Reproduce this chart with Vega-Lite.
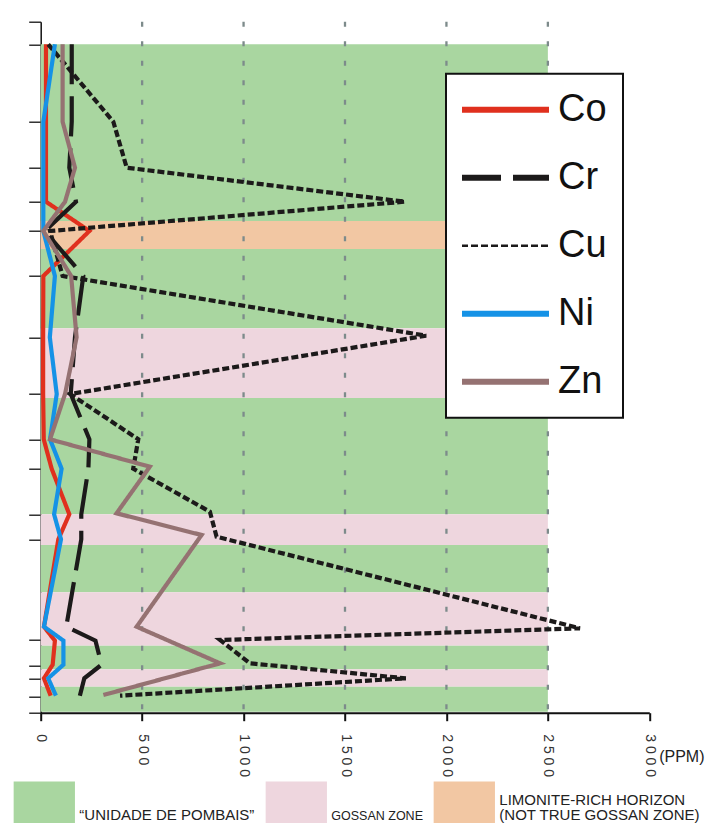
{
  "$schema": "https://vega.github.io/schema/vega-lite/v6.json",
  "width": 608.6,
  "height": 691,
  "autosize": {"type": "none"},
  "padding": {"left": 40.7, "top": 21.7, "right": 67.7, "bottom": 110.3},
  "background": "white",
  "config": {
    "view": {"stroke": null},
    "font": "Liberation Sans"
  },
  "datasets": {
    "zones": [
      {"zone": "“UNIDADE DE POMBAIS”", "top": 22.6, "bottom": 199.3},
      {"zone": "LIMONITE-RICH HORIZON (NOT TRUE GOSSAN ZONE)", "top": 199.3, "bottom": 227.3},
      {"zone": "“UNIDADE DE POMBAIS”", "top": 227.3, "bottom": 306.6},
      {"zone": "GOSSAN ZONE", "top": 306.6, "bottom": 376.3},
      {"zone": "“UNIDADE DE POMBAIS”", "top": 376.3, "bottom": 492.6},
      {"zone": "GOSSAN ZONE", "top": 492.6, "bottom": 523.3},
      {"zone": "“UNIDADE DE POMBAIS”", "top": 523.3, "bottom": 570.6},
      {"zone": "GOSSAN ZONE", "top": 570.6, "bottom": 624},
      {"zone": "“UNIDADE DE POMBAIS”", "top": 624, "bottom": 647.6},
      {"zone": "GOSSAN ZONE", "top": 647.6, "bottom": 665},
      {"zone": "“UNIDADE DE POMBAIS”", "top": 665, "bottom": 690}
    ],
    "grid": [{"g": 500}, {"g": 1000}, {"g": 1500}, {"g": 2000}, {"g": 2500}],
    "metals": [
      {"el": "Co", "depth": 22.6, "ppm": 26},
      {"el": "Co", "depth": 180, "ppm": 26},
      {"el": "Co", "depth": 209.3, "ppm": 240},
      {"el": "Co", "depth": 254.3, "ppm": 13},
      {"el": "Co", "depth": 315.6, "ppm": 12},
      {"el": "Co", "depth": 372.3, "ppm": 12},
      {"el": "Co", "depth": 417.6, "ppm": 15},
      {"el": "Co", "depth": 447, "ppm": 54},
      {"el": "Co", "depth": 492.6, "ppm": 141},
      {"el": "Co", "depth": 517.6, "ppm": 87},
      {"el": "Co", "depth": 605, "ppm": 16},
      {"el": "Co", "depth": 619, "ppm": 70},
      {"el": "Co", "depth": 643, "ppm": 59},
      {"el": "Co", "depth": 656.6, "ppm": 16},
      {"el": "Co", "depth": 674, "ppm": 49},
      {"el": "Cr", "depth": 22.6, "ppm": 153},
      {"el": "Cr", "depth": 100, "ppm": 153},
      {"el": "Cr", "depth": 146, "ppm": 141},
      {"el": "Cr", "depth": 180, "ppm": 174},
      {"el": "Cr", "depth": 209.3, "ppm": 20},
      {"el": "Cr", "depth": 254.3, "ppm": 210},
      {"el": "Cr", "depth": 315.6, "ppm": 169},
      {"el": "Cr", "depth": 372.3, "ppm": 148},
      {"el": "Cr", "depth": 417.6, "ppm": 240},
      {"el": "Cr", "depth": 447, "ppm": 235},
      {"el": "Cr", "depth": 492.6, "ppm": 200},
      {"el": "Cr", "depth": 517.6, "ppm": 200},
      {"el": "Cr", "depth": 605, "ppm": 126},
      {"el": "Cr", "depth": 619, "ppm": 270},
      {"el": "Cr", "depth": 643, "ppm": 300},
      {"el": "Cr", "depth": 656.6, "ppm": 215},
      {"el": "Cr", "depth": 674, "ppm": 193},
      {"el": "Cu", "depth": 22.6, "ppm": 37},
      {"el": "Cu", "depth": 100, "ppm": 358},
      {"el": "Cu", "depth": 146, "ppm": 424},
      {"el": "Cu", "depth": 180, "ppm": 1795},
      {"el": "Cu", "depth": 209.3, "ppm": 46},
      {"el": "Cu", "depth": 254.3, "ppm": 108},
      {"el": "Cu", "depth": 314, "ppm": 1900},
      {"el": "Cu", "depth": 372.3, "ppm": 145},
      {"el": "Cu", "depth": 417.6, "ppm": 481},
      {"el": "Cu", "depth": 447, "ppm": 456},
      {"el": "Cu", "depth": 490, "ppm": 834},
      {"el": "Cu", "depth": 515, "ppm": 867},
      {"el": "Cu", "depth": 606.6, "ppm": 2658},
      {"el": "Cu", "depth": 618.3, "ppm": 884},
      {"el": "Cu", "depth": 641.6, "ppm": 1031},
      {"el": "Cu", "depth": 656.6, "ppm": 1800},
      {"el": "Cu", "depth": 674, "ppm": 391},
      {"el": "Ni", "depth": 22.6, "ppm": 70},
      {"el": "Ni", "depth": 100, "ppm": 13},
      {"el": "Ni", "depth": 209.3, "ppm": 13},
      {"el": "Ni", "depth": 254.3, "ppm": 70},
      {"el": "Ni", "depth": 315.6, "ppm": 45},
      {"el": "Ni", "depth": 372.3, "ppm": 79},
      {"el": "Ni", "depth": 417.6, "ppm": 46},
      {"el": "Ni", "depth": 447, "ppm": 103},
      {"el": "Ni", "depth": 492.6, "ppm": 66},
      {"el": "Ni", "depth": 517.6, "ppm": 100},
      {"el": "Ni", "depth": 605, "ppm": 16},
      {"el": "Ni", "depth": 619, "ppm": 112},
      {"el": "Ni", "depth": 643, "ppm": 112},
      {"el": "Ni", "depth": 656.6, "ppm": 37},
      {"el": "Ni", "depth": 674, "ppm": 75},
      {"el": "Zn", "depth": 22.6, "ppm": 108},
      {"el": "Zn", "depth": 100, "ppm": 108},
      {"el": "Zn", "depth": 146, "ppm": 169},
      {"el": "Zn", "depth": 180, "ppm": 120},
      {"el": "Zn", "depth": 209.3, "ppm": 13},
      {"el": "Zn", "depth": 254.3, "ppm": 150},
      {"el": "Zn", "depth": 315.6, "ppm": 177},
      {"el": "Zn", "depth": 372.3, "ppm": 120},
      {"el": "Zn", "depth": 417.6, "ppm": 46},
      {"el": "Zn", "depth": 445, "ppm": 538},
      {"el": "Zn", "depth": 491.6, "ppm": 374},
      {"el": "Zn", "depth": 513.3, "ppm": 793},
      {"el": "Zn", "depth": 605, "ppm": 473},
      {"el": "Zn", "depth": 641.6, "ppm": 884},
      {"el": "Zn", "depth": 673.3, "ppm": 309}
    ]
  },
  "layer": [
    {
      "data": {"name": "zones"},
      "mark": {"type": "rect", "strokeWidth": 0},
      "encoding": {
        "x": {"datum": 0, "type": "quantitative",
          "scale": {"domain": [0, 3000], "nice": false},
          "axis": {
            "values": [0, 500, 1000, 1500, 2000, 2500, 3000],
            "labelExpr": "join(split(datum.value + '', ''), ' ')",
            "labelAngle": 90, "labelFontSize": 14, "labelColor": "#333333",
            "labelPadding": 13, "labelFont": "Liberation Sans",
            "tickSize": 8, "tickWidth": 2, "tickColor": "#111111",
            "domainColor": "#111111", "domainWidth": 2,
            "grid": false,
            "title": "(PPM)", "titleX": 618, "titleY": 44, "titleAngle": 0,
            "titleAlign": "left", "titleBaseline": "middle",
            "titleFontSize": 16, "titleFontWeight": "normal", "titleColor": "#222222",
            "titleFont": "Liberation Sans"
          }
        },
        "x2": {"datum": 2500},
        "y": {"field": "top", "type": "quantitative",
          "scale": {"domain": [0, 691], "reverse": true, "nice": false, "zero": false},
          "axis": {
            "values": [0, 22.6, 100, 146, 180, 209.3, 254.3, 315.6, 372.3, 417.6, 447, 492.6, 517.6, 618.3, 644.3, 656.6, 675, 691],
            "labels": false, "tickSize": 12, "tickWidth": 1.3, "tickColor": "#111111",
            "domainColor": "#111111", "domainWidth": 1.5, "grid": false, "title": null
          }
        },
        "y2": {"field": "bottom"},
        "fill": {"field": "zone", "type": "nominal",
          "scale": {
            "domain": ["“UNIDADE DE POMBAIS”", "GOSSAN ZONE", "LIMONITE-RICH HORIZON (NOT TRUE GOSSAN ZONE)"],
            "range": ["#a9d6a0", "#eed6de", "#f2c7a3"]
          },
          "legend": {
            "orient": "none", "legendX": -27.4, "legendY": 759.3,
            "direction": "horizontal", "title": null, "padding": 0,
            "symbolType": "square", "symbolSize": 3758, "symbolStrokeWidth": 0,
            "symbolOpacity": 1,
            "labelOffset": 4, "columnPadding": 10, "labelLimit": 400,
            "labelFontSize": 15, "labelColor": "#222222", "labelFont": "Liberation Sans",
            "labelBaseline": "bottom",
            "labelExpr": "datum.value == 'LIMONITE-RICH HORIZON (NOT TRUE GOSSAN ZONE)' ? ['LIMONITE-RICH HORIZON', '(NOT TRUE GOSSAN ZONE)'] : datum.label",
            "encode": {
              "labels": {
                "update": {
                  "dy": {"signal": "datum.value == 'LIMONITE-RICH HORIZON (NOT TRUE GOSSAN ZONE)' ? -4.5 : 11"},
                  "lineHeight": {"value": 15.5},
                  "fontSize": {"signal": "datum.value == 'GOSSAN ZONE' ? 12.5 : 15"}
                }
              }
            }
          }
        }
      }
    },
    {
      "data": {"name": "grid"},
      "mark": {"type": "rule", "color": "#7d8b8b", "strokeWidth": 2.3, "strokeDash": [5, 14.5]},
      "encoding": {
        "x": {"field": "g", "type": "quantitative", "title": "(PPM)"}
      }
    },
    {
      "data": {"name": "metals"},
      "mark": {"type": "line", "strokeWidth": 4.2, "strokeJoin": "miter", "strokeCap": "butt"},
      "encoding": {
        "x": {"field": "ppm", "type": "quantitative", "title": "(PPM)"},
        "y": {"field": "depth", "type": "quantitative", "title": null},
        "order": {"field": "depth"},
        "stroke": {"field": "el", "type": "nominal",
          "scale": {"domain": ["Co", "Cr", "Cu", "Ni", "Zn"],
            "range": ["#e0301e", "#1c1a1a", "#1c1a1a", "#1592e6", "#957272"]},
          "legend": {
            "orient": "none", "legendX": 405.3, "legendY": 52,
            "direction": "vertical", "title": null, "padding": 16,
            "fillColor": "white", "strokeColor": "#111111",
            "symbolType": "stroke", "symbolSize": 7744, "symbolStrokeWidth": 6,
            "symbolOffset": 24,
            "clipHeight": 40, "rowPadding": 28,
            "labelFontSize": 38, "labelOffset": 34, "labelColor": "#111111",
            "labelFont": "Liberation Sans", "labelBaseline": "middle",
            "encode": {
              "legend": {"update": {"strokeWidth": {"value": 2}}},
              "symbols": {
                "update": {
                  "strokeWidth": {"signal": "datum.value == 'Cu' ? 2.5 : 6"}
                }
              }
            }
          }
        },
        "strokeDash": {"field": "el", "type": "nominal",
          "scale": {"domain": ["Co", "Cr", "Cu", "Ni", "Zn"],
            "range": [[1, 0], [40, 12], [7, 3], [1, 0], [1, 0]]},
          "legend": {
            "orient": "none", "legendX": 405.3, "legendY": 52,
            "direction": "vertical", "title": null, "padding": 16,
            "fillColor": "white", "strokeColor": "#111111",
            "symbolType": "stroke", "symbolSize": 7744, "symbolStrokeWidth": 6,
            "symbolOffset": 24,
            "clipHeight": 40, "rowPadding": 28,
            "labelFontSize": 38, "labelOffset": 34, "labelColor": "#111111",
            "labelFont": "Liberation Sans", "labelBaseline": "middle",
            "encode": {
              "legend": {"update": {"strokeWidth": {"value": 2}}},
              "symbols": {
                "update": {
                  "strokeWidth": {"signal": "datum.value == 'Cu' ? 2.5 : 6"}
                }
              }
            }
          }
        }
      }
    }
  ]
}
